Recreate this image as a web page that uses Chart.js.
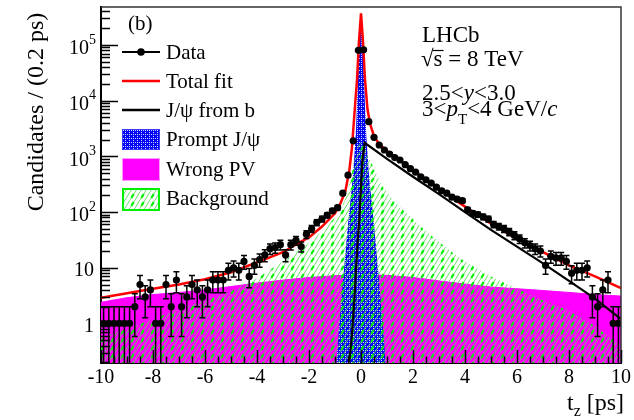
<!DOCTYPE html>
<html>
<head>
<meta charset="utf-8">
<script src="https://cdn.jsdelivr.net/npm/chart.js@4.4.0/dist/chart.umd.min.js"></script>
<style>
  html, body { margin: 0; padding: 0; background: #fff; }
  #wrap { width: 634px; height: 420px; }
</style>
</head>
<body>
<div id="wrap"><canvas id="myChart" width="634" height="420"></canvas></div>
<script>
// binned decay-time data, 0.2 ps bins
let tBins = [-9.9,-9.7,-9.5,-9.3,-9.1,-8.9,-8.7,-8.5,-8.3,-8.1,
             -7.9,-7.7,-7.5,-7.3,-7.1,-6.9,-6.7,-6.5,-6.3,-6.1,
             -5.9,-5.7,-5.5,-5.3,-5.1,-4.9,-4.7,-4.5,-4.3,-4.1,
             -3.9,-3.7,-3.5,-3.3,-3.1,-2.9,-2.7,-2.5,-2.3,-2.1,
             -1.9,-1.7,-1.5,-1.3,-1.1,-0.9,-0.7,-0.5,-0.3,-0.1,
             0.1,0.3,0.5,0.7,0.9,1.1,1.3,1.5,1.7,1.9,
             2.1,2.3,2.5,2.7,2.9,3.1,3.3,3.5,3.7,3.9,
             4.1,4.3,4.5,4.7,4.9,5.1,5.3,5.5,5.7,5.9,
             6.1,6.3,6.5,6.7,6.9,7.1,7.3,7.5,7.7,7.9,
             8.1,8.3,8.5,8.7,8.9,9.1,9.3,9.5,9.7,9.9];
let counts = [1,1,1,1,1,1,2,5,3,4,
              1,1,5,2,6,2,3,5,4,3,
              4,6,6,6,9,10,9,13,7,11,
              14,17,22,23,26,17,26,31,24,40,
              50,65,75,88,105,120,218,460,1900,80000,
              82000,4200,2200,1600,1300,1100,950,860,710,600,
              520,430,380,330,280,240,218,185,170,160,
              110,95,90,82,75,60,55,50,44,38,
              33,28,25,22,20,11,16,15,15,13,
              8,9,9,10,3,2,4,6,1,1];

// total fit
let fitT = [-10,-9,-8,-7,-6,-5,-4,-3,-2.4,-2,-1.5,-1,-0.8,-0.6,-0.45,-0.35,-0.25,-0.15,-0.08,0,
            0.08,0.15,0.25,0.35,0.5,0.7,1,1.5,2,3,4,5,6,7,8,9,10];
let fitY = [2.9,3.5,4.2,5.0,6.2,8.3,12.5,19,28,35,55,95,140,240,550,1400,6000,25000,110000,370000,
            110000,25000,7000,3800,2300,1650,1250,850,560,260,125,62,33,19,11,7,4.3];

// J/psi from b component
let fromBT = [-0.45,-0.35,-0.25,-0.15,-0.05,0.05,0.14,1,2,3,4,5,6,7,8,9,10];
let fromBY = [0.2,0.6,3,20,100,800,1750,900,430,210,100,48,24,12,5.8,2.8,1.2];

// prompt J/psi component
let promptT = [-0.95,-0.8,-0.65,-0.5,-0.4,-0.3,-0.2,-0.12,-0.05,0,0.05,0.12,0.2,0.3,0.4,0.5,0.65,0.8,0.95];
let promptY = [0.2,1.5,10,60,170,500,2500,20000,150000,250000,150000,20000,2500,500,170,60,10,1.5,0.2];

// combinatorial background
let bkgT = [-10,-9,-8,-7,-6,-5,-4,-3,-2.4,-2,-1.5,-1,-0.7,-0.5,-0.35,-0.2,-0.1,0,0.1,0.25,
            0.5,0.8,1.2,1.6,2,2.5,3,3.5,4,5,6,7,8,9,10];
let bkgY = [0.55,0.8,1.2,1.8,2.6,3.8,6.5,13,21,28,45,80,130,250,500,1100,1600,1800,1700,1100,
            600,300,170,110,75,45,29,19,13,7,4.2,2.6,1.7,0.9,0.4];

// wrong primary vertex association
let wpvT = [-10,-9,-8,-7,-6,-5,-4,-3,-2,-1,0,1,2,3,4,5,6,7,8,9,10];
let wpvY = [2.4,2.9,3.3,3.6,4.0,4.6,5.3,6.0,6.7,7.2,7.5,7.3,6.7,5.8,5.1,4.5,4.2,3.9,3.6,3.3,3.1];

let yTickVals = [1, 10, 100, 1000, 10000, 100000];
let yTickBase = ['1', '10', '10', '10', '10', '10'];
let yTickExp = ['', '', '2', '3', '4', '5'];

const SERIF = '"Liberation Serif", "Times New Roman", serif';
const f = (size, style) => (style ? style + ' ' : '') + size + 'px ' + SERIF;
const pts = (xs, ys) => xs.map((x, i) => ({x: x, y: ys[i]}));

function makePattern(w, h, draw) {
    let c = document.createElement('canvas');
    c.width = w; c.height = h;
    let g = c.getContext('2d');
    draw(g);
    return g.createPattern(c, 'repeat');
}

// thin diagonal hatch plus a bold dash every other line
let greenHatch = makePattern(10, 8, g => {
    g.strokeStyle = '#55dd55';
    g.lineWidth = 0.9;
    g.beginPath();
    g.moveTo(0, 8); g.lineTo(5, 0);
    g.moveTo(5, 8); g.lineTo(10, 0);
    g.stroke();
    g.strokeStyle = '#00f000';
    g.lineWidth = 2.2;
    g.beginPath();
    g.moveTo(1.3, 5.9); g.lineTo(3.7, 2.1);
    g.stroke();
});

let blueGrid = makePattern(4, 4, g => {
    g.fillStyle = '#0505f5';
    g.fillRect(0, 0, 4, 4);
    g.fillStyle = 'rgba(255,255,255,0.8)';
    g.fillRect(1, 0, 1, 1);
    g.fillRect(1, 2, 1, 1);
    g.fillRect(3, 2, 1, 1);
});

// draws a list of [text, font, dy] pieces one after another
function runs(ctx, x, y, parts) {
    let cx = x;
    parts.forEach(p => {
        ctx.font = p[1];
        ctx.fillText(p[0], cx, y + (p[2] || 0));
        cx += ctx.measureText(p[0]).width;
    });
    return cx;
}

let errorBars = {
    id: 'errorBars',
    afterDatasetsDraw(chart) {
        let {ctx, chartArea: a, scales: {x, y}} = chart;
        ctx.save();
        ctx.beginPath();
        ctx.rect(a.left, a.top, a.right - a.left, a.bottom - a.top);
        ctx.clip();
        ctx.strokeStyle = '#000';
        ctx.lineWidth = 1.5;
        tBins.forEach((t, i) => {
            let n = counts[i], e = Math.sqrt(n);
            let px = x.getPixelForValue(t), py = y.getPixelForValue(n);
            let lo = n - e > 0 ? y.getPixelForValue(n - e) : a.bottom + 2;
            let hi = y.getPixelForValue(n + e);
            ctx.beginPath();
            ctx.moveTo(x.getPixelForValue(t - 0.1), py);
            ctx.lineTo(x.getPixelForValue(t + 0.1), py);
            ctx.moveTo(px, lo); ctx.lineTo(px, hi);
            ctx.moveTo(px - 3, hi); ctx.lineTo(px + 3, hi);
            if (n - e > 0) { ctx.moveTo(px - 3, lo); ctx.lineTo(px + 3, lo); }
            ctx.stroke();
        });
        ctx.restore();
    }
};

let decor = {
    id: 'decor',
    afterDraw(chart) {
        let {ctx, chartArea: a, scales: {x, y}} = chart;
        ctx.save();
        ctx.fillStyle = '#000';
        ctx.strokeStyle = '#000';

        // top and right frame
        ctx.lineWidth = 1.5;
        ctx.strokeStyle = '#333';
        ctx.beginPath();
        ctx.moveTo(a.left, a.top); ctx.lineTo(a.right, a.top); ctx.lineTo(a.right, a.bottom);
        ctx.stroke();

        // y ticks, log decades
        ctx.strokeStyle = '#000';
        ctx.lineWidth = 1.5;
        ctx.beginPath();
        for (let d = -1; d <= 5; d++) {
            for (let k = 1; k <= 9; k++) {
                let v = k * Math.pow(10, d);
                if (v < y.min || v > y.max) continue;
                let py = Math.round(y.getPixelForValue(v)) + 0.5;
                ctx.moveTo(a.left, py);
                ctx.lineTo(a.left + (k === 1 ? 17 : 9), py);
            }
        }
        // x ticks
        x.ticks.forEach(tk => {
            let px = Math.round(x.getPixelForValue(tk.value)) + 0.5;
            ctx.moveTo(px, a.bottom); ctx.lineTo(px, a.bottom - 13);
        });
        for (let v = x.min; v < x.max; v += 0.5) {
            let px = Math.round(x.getPixelForValue(v)) + 0.5;
            ctx.moveTo(px, a.bottom); ctx.lineTo(px, a.bottom - 6.5);
        }
        ctx.stroke();

        // y tick labels
        ctx.textBaseline = 'middle';
        yTickVals.forEach((v, i) => {
            let py = y.getPixelForValue(v);
            if (yTickExp[i]) {
                ctx.textAlign = 'right';
                ctx.font = f(20);
                ctx.fillText(yTickBase[i], 89, py + 4);
                ctx.textAlign = 'left';
                ctx.font = f(14);
                ctx.fillText(yTickExp[i], 89, py - 5);
            } else {
                ctx.textAlign = 'right';
                ctx.font = f(20);
                ctx.fillText(yTickBase[i], 94, py + 3);
            }
        });

        // axis titles
        ctx.save();
        ctx.translate(37, 112);
        ctx.rotate(-Math.PI / 2);
        ctx.textAlign = 'center';
        ctx.font = f(24);
        ctx.fillText('Candidates / (0.2 ps)', 0, 0);
        ctx.restore();

        ctx.textAlign = 'left';
        ctx.textBaseline = 'alphabetic';
        runs(ctx, 567, 410, [['t', f(24)], ['z', f(16), 6], [' [ps]', f(24)]]);

        // legend
        let lx0 = 122, lx1 = 160, tx = 166;
        ctx.font = f(21);
        runs(ctx, 128, 30, [['(b)', f(21)]]);
        ctx.textBaseline = 'middle';
        ctx.lineWidth = 2;
        ctx.beginPath(); ctx.moveTo(lx0, 52); ctx.lineTo(lx1, 52); ctx.stroke();
        ctx.beginPath(); ctx.arc(141, 52, 3.8, 0, Math.PI * 2); ctx.fill();
        ctx.fillText('Data', tx, 53);

        ctx.strokeStyle = '#ff0000'; ctx.lineWidth = 2.5;
        ctx.beginPath(); ctx.moveTo(lx0, 81); ctx.lineTo(lx1, 81); ctx.stroke();
        ctx.fillText('Total fit', tx, 82);

        ctx.strokeStyle = '#000'; ctx.lineWidth = 2.5;
        ctx.beginPath(); ctx.moveTo(lx0, 110); ctx.lineTo(lx1, 110); ctx.stroke();
        ctx.fillText('J/\u03c8 from b', tx, 111);

        ctx.fillStyle = blueGrid;
        ctx.fillRect(lx0, 129, lx1 - lx0, 21);
        ctx.strokeStyle = '#3b3bff'; ctx.lineWidth = 1;
        ctx.strokeRect(lx0 + 0.5, 129.5, lx1 - lx0 - 1, 20);
        ctx.fillStyle = '#000';
        ctx.fillText('Prompt J/\u03c8', tx, 140);

        ctx.fillStyle = '#ff00ff';
        ctx.fillRect(lx0, 158, lx1 - lx0, 23);
        ctx.strokeStyle = '#ff99ff';
        ctx.strokeRect(lx0 + 0.5, 158.5, lx1 - lx0 - 1, 22);
        ctx.fillStyle = '#000';
        ctx.fillText('Wrong PV', tx, 170);

        ctx.fillStyle = greenHatch;
        ctx.fillRect(lx0, 189, lx1 - lx0, 21);
        ctx.strokeStyle = '#00ee00'; ctx.lineWidth = 2;
        ctx.strokeRect(lx0 + 1, 189, lx1 - lx0 - 2, 21);
        ctx.fillStyle = '#000';
        ctx.fillText('Background', tx, 199);

        // experiment label
        ctx.textBaseline = 'alphabetic';
        runs(ctx, 422, 42, [['LHCb', f(23)]]);
        let sx = runs(ctx, 421, 66, [['\u221a', f(23)]]);
        let ex = runs(ctx, sx, 66, [['s', f(23)]]);
        ctx.lineWidth = 1.2; ctx.strokeStyle = '#000';
        ctx.beginPath(); ctx.moveTo(sx - 1, 50.5); ctx.lineTo(ex + 1, 50.5); ctx.stroke();
        runs(ctx, ex, 66, [[' = 8 TeV', f(23)]]);
        runs(ctx, 422, 100, [['2.5<', f(23)], ['y', f(23, 'italic')], ['<3.0', f(23)]]);
        runs(ctx, 422, 116, [['3<', f(23)], ['p', f(23, 'italic')], ['T', f(15), 8],
                             ['<4 GeV/', f(23)], ['c', f(23, 'italic')]]);
        ctx.restore();
    }
};

const ctx = document.getElementById('myChart');

let myChart = new Chart(ctx, {
    type: 'line',
    data: {
        datasets: [{
            label: 'Data',
            data: pts(tBins, counts),
            showLine: false,
            pointRadius: 3.6,
            pointBackgroundColor: '#000',
            pointBorderWidth: 0,
            order: 0
        }, {
            label: 'J/psi from b',
            data: pts(fromBT, fromBY),
            borderColor: '#000',
            borderWidth: 2.2,
            pointRadius: 0,
            fill: false,
            order: 1
        }, {
            label: 'Total fit',
            data: pts(fitT, fitY),
            borderColor: '#ff0000',
            borderWidth: 2.5,
            pointRadius: 0,
            fill: false,
            order: 2
        }, {
            label: 'Background',
            data: pts(bkgT, bkgY),
            borderWidth: 0,
            borderColor: 'rgba(0,0,0,0)',
            backgroundColor: greenHatch,
            pointRadius: 0,
            fill: 'start',
            order: 3
        }, {
            label: 'Prompt',
            data: pts(promptT, promptY),
            borderWidth: 0,
            borderColor: 'rgba(0,0,0,0)',
            backgroundColor: blueGrid,
            pointRadius: 0,
            fill: 'start',
            order: 4
        }, {
            label: 'Wrong PV',
            data: pts(wpvT, wpvY),
            borderWidth: 1,
            borderColor: '#ff00ff',
            backgroundColor: '#ff00ff',
            pointRadius: 0,
            fill: 'start',
            order: 5
        }]
    },
    options: {
        responsive: false,
        animation: false,
        layout: { padding: { left: 0, top: 7, right: 9, bottom: 0 } },
        plugins: {
            legend: { display: false },
            tooltip: { enabled: false }
        },
        scales: {
            x: {
                type: 'linear',
                min: -10,
                max: 10,
                grid: { display: false, drawTicks: false },
                border: { color: '#000', width: 2 },
                ticks: {
                    stepSize: 2,
                    padding: 3,
                    color: '#000',
                    maxRotation: 0,
                    autoSkip: false,
                    font: { family: SERIF, size: 20 },
                    callback: v => String(v)
                },
                afterFit: s => { s.height = 57; }
            },
            y: {
                type: 'logarithmic',
                min: 0.195,
                max: 480000,
                grid: { display: false, drawTicks: false },
                border: { color: '#000', width: 2 },
                ticks: { display: false },
                afterFit: s => { s.width = 101; }
            }
        }
    },
    plugins: [errorBars, decor]
});
</script>
</body>
</html>
